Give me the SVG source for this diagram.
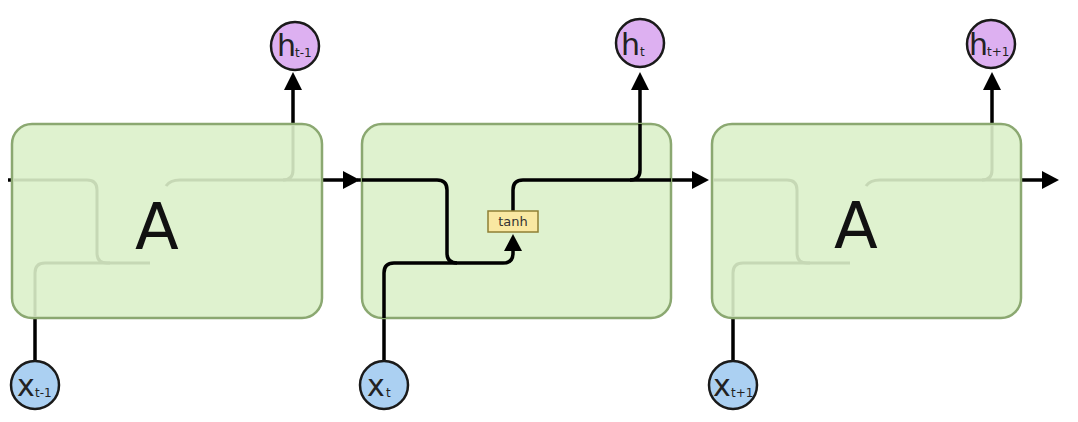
<svg xmlns="http://www.w3.org/2000/svg" width="1078" height="422" viewBox="0 0 1078 422">
<style>
.box{fill:#dff2cf;stroke:#8ba871;stroke-width:2.5}
.wire{fill:none;stroke:#000;stroke-width:3.5;stroke-linecap:butt}
.faint{fill:none;stroke:#c6d8b5;stroke-width:3}
.hn{fill:#ddb0f1;stroke:#1a1a1a;stroke-width:2.5}
.xn{fill:#abd0f2;stroke:#1a1a1a;stroke-width:2.5}
.big{font-family:"DejaVu Sans","Liberation Sans",sans-serif;font-size:64px;fill:#111;text-anchor:middle}
.lbl{font-family:"DejaVu Sans","Liberation Sans",sans-serif;font-size:30px;fill:#222}
.sub{font-family:"DejaVu Sans","Liberation Sans",sans-serif;font-size:12px;fill:#222}
.tanh{fill:#f9e8a2;stroke:#8f7f35;stroke-width:1.5}
.tt{font-family:"DejaVu Sans","Liberation Sans",sans-serif;font-size:13px;fill:#333;text-anchor:middle}
.ah{fill:#000}
</style>
<rect width="1078" height="422" fill="#fff"/>
<g id="connectors">
  <line class="wire" x1="8" y1="180" x2="13" y2="180"/>
  <line class="wire" x1="322" y1="180" x2="345" y2="180"/>
  <polygon class="ah" points="343,171 360,180 343,189"/>
  <line class="wire" x1="293" y1="124" x2="293" y2="88"/>
  <polygon class="ah" points="284,90 293,72 302,90"/>
  <line class="wire" x1="35" y1="360" x2="35" y2="318"/>
  <path class="wire" d="M357,180 H437 Q447,180 447,190 V253 Q447,263 457,263"/>
  <path class="wire" d="M384,360 V273 Q384,263 394,263 H503 Q513,263 513,253 V248"/>
  <polygon class="ah" points="504,251 513,234 522,251"/>
  <path class="wire" d="M513,212 V190 Q513,180 523,180 H695"/>
  <polygon class="ah" points="692,171 709,180 692,189"/>
  <path class="wire" d="M630,180 Q640,180 640,170 V88"/>
  <polygon class="ah" points="631,90 640,72 649,90"/>
  <line class="wire" x1="992" y1="124" x2="992" y2="88"/>
  <polygon class="ah" points="983,90 992,72 1001,90"/>
  <line class="wire" x1="733" y1="360" x2="733" y2="318"/>
  <line class="wire" x1="1021" y1="180" x2="1045" y2="180"/>
  <polygon class="ah" points="1042,171 1059,180 1042,189"/>
</g>
<g id="A1">
  <rect class="box" x="12" y="124" width="310" height="194" rx="20"/>
  <path class="faint" d="M13,180 H87 Q97,180 97,190 V253 Q97,263 107,263 H150"/>
  <path class="faint" d="M35,317 V273 Q35,263 45,263 H110"/>
  <path class="faint" d="M166,186 Q170,180 180,180 H283 Q293,180 293,170 V125"/>
  <path class="faint" d="M283,180 H321"/>
  <text class="big" x="157" y="249">A</text>
</g>
<g id="A2">
  <rect class="box" x="362" y="124" width="309" height="194" rx="20"/>
</g>
<g id="A3">
  <rect class="box" x="712" y="124" width="309" height="194" rx="20"/>
  <path class="faint" d="M713,180 H787 Q797,180 797,190 V253 Q797,263 807,263 H850"/>
  <path class="faint" d="M733,317 V273 Q733,263 743,263 H810"/>
  <path class="faint" d="M866,186 Q870,180 880,180 H982 Q992,180 992,170 V125"/>
  <path class="faint" d="M982,180 H1020"/>
  <text class="big" x="856" y="248">A</text>
</g>
<g id="box2wires">
  <path class="wire" d="M362,180 H437 Q447,180 447,190 V253 Q447,263 457,263"/>
  <path class="wire" d="M384,318 V273 Q384,263 394,263 H503 Q513,263 513,253 V248"/>
  <polygon class="ah" points="504,251 513,234 522,251"/>
  <path class="wire" d="M513,212 V190 Q513,180 523,180 H671"/>
  <path class="wire" d="M630,180 Q640,180 640,170 V124"/>
</g>
<g id="tanh">
  <rect class="tanh" x="488" y="211" width="50" height="21"/>
  <text class="tt" x="513" y="226">tanh</text>
</g>
<g id="h_tm1">
  <circle class="hn" cx="295" cy="46" r="24"/>
  <text class="lbl" x="277" y="56">h</text><text class="sub" x="295" y="57">t-1</text>
</g>
<g id="h_t">
  <circle class="hn" cx="640" cy="43" r="24"/>
  <text class="lbl" x="621" y="55">h</text><text class="sub" x="640" y="56">t</text>
</g>
<g id="h_tp1">
  <circle class="hn" cx="991" cy="44" r="24"/>
  <text class="lbl" x="969" y="55">h</text><text class="sub" x="987" y="56">t+1</text>
</g>
<g id="x_tm1">
  <circle class="xn" cx="35" cy="385" r="24"/>
  <text class="lbl" x="17" y="396">x</text><text class="sub" x="35" y="397">t-1</text>
</g>
<g id="x_t">
  <circle class="xn" cx="384" cy="385" r="24"/>
  <text class="lbl" x="367" y="396">x</text><text class="sub" x="386" y="397">t</text>
</g>
<g id="x_tp1">
  <circle class="xn" cx="733" cy="385" r="24"/>
  <text class="lbl" x="713" y="396">x</text><text class="sub" x="731" y="397">t+1</text>
</g>
</svg>
